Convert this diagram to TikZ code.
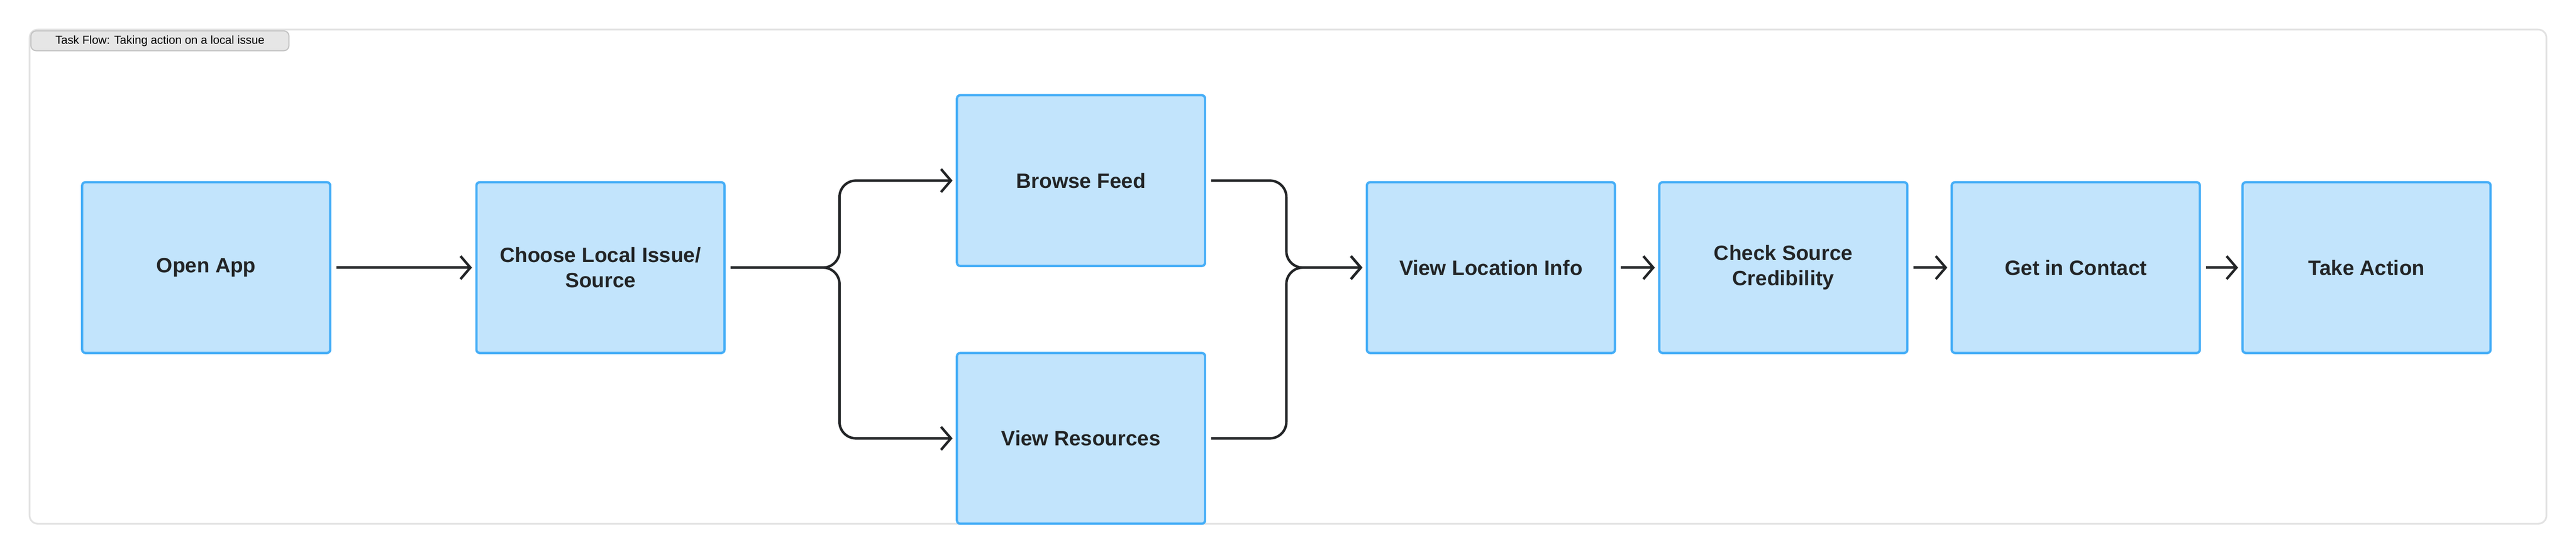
\documentclass[tikz,border=0pt]{standalone}
\usepackage{fontspec}
\setmainfont{Liberation Sans}
\usetikzlibrary{arrows.meta}
\definecolor{boxfill}{HTML}{C2E4FC}
\definecolor{boxline}{HTML}{46AEF7}
\definecolor{ink}{HTML}{222426}
\definecolor{frame}{HTML}{E2E2E2}
\definecolor{tagfill}{HTML}{E6E6E6}
\definecolor{tagline}{HTML}{C4C4C4}
\begin{document}
\begin{tikzpicture}[x=1mm,y=-1mm,
  flowbox/.style={draw=boxline,fill=boxfill,line width=4pt,rounded corners=2mm,
    minimum width=151mm,minimum height=104mm,inner sep=0pt,align=center,
    text=ink,font=\fontsize{36}{44}\selectfont\bfseries},
  arr/.style={draw=ink,line width=4.3pt,rounded corners=10mm,shorten <=3mm,shorten >=2mm,
    -{Straight Barb[length=6mm,width=14mm,line width=4.3pt]}}]
\useasboundingbox (0,0) rectangle (1568,338);
\draw[frame,line width=3pt,rounded corners=5mm] (18,18) rectangle (1550,319);
\node[draw=tagline,fill=tagfill,line width=2pt,rounded corners=3mm,anchor=north west,
  minimum width=157mm,minimum height=12mm,inner sep=0pt,text=black,
  font=\fontsize{20}{24}\selectfont] (tag) at (18.5,18.5) {Task Flow: Taking action on a local issue};
\node[flowbox] (open) at (125.5,163) {Open App};
\node[flowbox] (choose) at (365.5,163) {Choose Local Issue/\\Source};
\node[flowbox] (browse) at (658,110) {Browse Feed};
\node[flowbox] (res) at (658,267) {View Resources};
\node[flowbox] (loc) at (907.5,163) {View Location Info};
\node[flowbox] (check) at (1085.5,163) {Check Source\\Credibility};
\node[flowbox] (contact) at (1263.5,163) {Get in Contact};
\node[flowbox] (act) at (1440.5,163) {Take Action};
\coordinate (sx) at (511,0);
\coordinate (mx) at (783,0);
\draw[arr] (open) -- (choose);
\draw[arr] (choose.east) -- (choose.east -| sx) -- (browse.west -| sx) -- (browse.west);
\draw[arr] (choose.east) -- (choose.east -| sx) -- (res.west -| sx) -- (res.west);
\draw[arr] (browse.east) -- (browse.east -| mx) -- (loc.west -| mx) -- (loc.west);
\draw[arr] (res.east) -- (res.east -| mx) -- (loc.west -| mx) -- (loc.west);
\draw[arr] (loc) -- (check);
\draw[arr] (check) -- (contact);
\draw[arr] (contact) -- (act);
\end{tikzpicture}
\end{document}
